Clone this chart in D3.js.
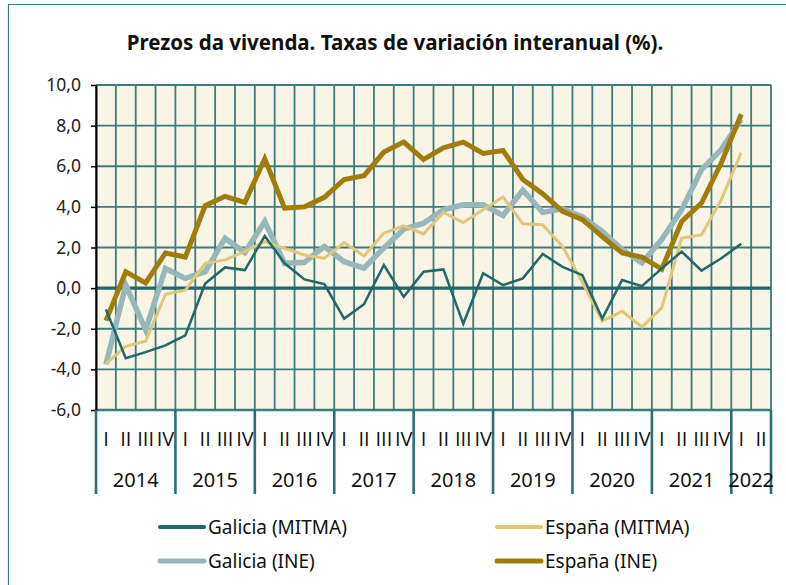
<!DOCTYPE html>
<html>
<head>
<meta charset="utf-8">
<script src="https://cdn.jsdelivr.net/npm/d3@7"></script>
<style>
  html, body { margin: 0; padding: 0; background: #fff; }
  svg { display: block; font-family: "Noto Sans", sans-serif; }
</style>
</head>
<body>
<svg id="chart" width="786" height="585"></svg>
<script>
// years and quarter labels (2022 only has two quarters on the axis)
const years = [2014, 2015, 2016, 2017, 2018, 2019, 2020, 2021, 2022];
const quarterLabels = ['I', 'II', 'III', 'IV'];
const quartersInYear = [4, 4, 4, 4, 4, 4, 4, 4, 2];
const yTicks = [-6, -4, -2, 0, 2, 4, 6, 8, 10];

// series, 2014-I .. 2022-I
const galiciaMitma = [-1.05, -3.45, -3.15, -2.82, -2.33, 0.23, 1.02, 0.89, 2.57, 1.22, 0.43, 0.2,
  -1.5, -0.79, 1.14, -0.43, 0.81, 0.92, -1.75, 0.73, 0.15, 0.48, 1.68, 1.05,
  0.64, -1.5, 0.4, 0.1, 0.97, 1.8, 0.86, 1.47, 2.18];
const espanaMitma = [-3.73, -2.87, -2.61, -0.3, -0.1, 1.22, 1.39, 1.8, 2.29, 1.96, 1.63, 1.47,
  2.24, 1.58, 2.71, 3.07, 2.67, 3.73, 3.23, 3.86, 4.49, 3.17, 3.12, 2.05,
  0.3, -1.62, -1.14, -1.91, -0.96, 2.46, 2.62, 4.36, 6.67];
const galiciaIne = [-3.76, 0.15, -2.05, 0.97, 0.48, 0.81, 2.46, 1.75, 3.28, 1.22, 1.27, 2.05,
  1.3, 0.99, 1.98, 2.9, 3.2, 3.86, 4.1, 4.1, 3.58, 4.82, 3.73, 3.9,
  3.5, 2.79, 1.9, 1.24, 2.4, 3.86, 5.84, 6.83, 8.3];
const espanaIne = [-1.6, 0.8, 0.26, 1.73, 1.53, 4.06, 4.52, 4.22, 6.37, 3.94, 4.0, 4.47,
  5.35, 5.54, 6.7, 7.19, 6.34, 6.91, 7.19, 6.63, 6.78, 5.35, 4.65, 3.78,
  3.37, 2.54, 1.73, 1.53, 0.94, 3.28, 4.19, 6.17, 8.56];

const series = [
  { name: 'Galicia (INE)', values: galiciaIne, color: '#97b7ba', width: 5.5 },
  { name: 'España (INE)', values: espanaIne, color: '#a07d0b', width: 5 },
  { name: 'España (MITMA)', values: espanaMitma, color: '#e0c77a', width: 3 },
  { name: 'Galicia (MITMA)', values: galiciaMitma, color: '#22676a', width: 2.5 }
];
const legendOrder = ['Galicia (MITMA)', 'España (MITMA)', 'Galicia (INE)', 'España (INE)'];

// category list built from years / quarters
const cats = [];
years.forEach((yr, i) => {
  for (let q = 0; q < quartersInYear[i]; q++) cats.push({ key: yr + '-' + q, year: yr, q: quarterLabels[q] });
});

const svg = d3.select('#chart');
const grid = '#3d7b7d';

const x = d3.scaleBand().domain(cats.map(d => d.key)).range([96, 771]).padding(0);
const y = d3.scaleLinear().domain([-6, 10]).range([410, 85]);

// outer frame
svg.append('line').attr('x1', 8.5).attr('x2', 8.5).attr('y1', 4).attr('y2', 585)
  .attr('stroke', grid).attr('stroke-width', 1.2);
svg.append('line').attr('x1', 8).attr('x2', 786).attr('y1', 4.5).attr('y2', 4.5)
  .attr('stroke', grid).attr('stroke-width', 1.2);

// title
svg.append('text')
  .attr('x', 395).attr('y', 50)
  .attr('text-anchor', 'middle')
  .attr('font-size', 20.5).attr('font-weight', 'bold').attr('fill', '#111')
  .text('Prezos da vivenda. Taxas de variación interanual (%).');

// plot background
svg.append('rect')
  .attr('x', x.range()[0]).attr('y', y(10))
  .attr('width', x.range()[1] - x.range()[0]).attr('height', y(-6) - y(10))
  .attr('fill', '#f8f4e6');

// vertical grid at quarter boundaries
const bounds = cats.map(d => x(d.key)).concat([x.range()[1]]);
svg.append('g').selectAll('line').data(bounds).join('line')
  .attr('x1', d => d).attr('x2', d => d)
  .attr('y1', y(10)).attr('y2', y(-6))
  .attr('stroke', grid).attr('stroke-width', 1.8);

// horizontal grid
svg.append('g').selectAll('line').data(yTicks).join('line')
  .attr('x1', x.range()[0]).attr('x2', x.range()[1])
  .attr('y1', d => y(d)).attr('y2', d => y(d))
  .attr('stroke', grid).attr('stroke-width', d => d === -6 ? 2.4 : 1.8);

// zero line
svg.append('line')
  .attr('x1', x.range()[0]).attr('x2', x.range()[1])
  .attr('y1', y(0)).attr('y2', y(0))
  .attr('stroke', '#22676a').attr('stroke-width', 3.4);

// y axis
const yAxis = svg.append('g')
  .attr('transform', 'translate(96,0)')
  .call(d3.axisLeft(y).tickValues(yTicks).tickSize(5).tickSizeOuter(0)
    .tickFormat(d => d.toFixed(1).replace('.', ',')));
yAxis.select('.domain').attr('stroke', '#000').attr('stroke-width', 2);
yAxis.selectAll('.tick line').attr('stroke', '#000').attr('stroke-width', 1.5);
yAxis.selectAll('.tick text').attr('font-size', 17.5).attr('fill', '#222')
  .attr('font-family', '"Noto Sans", sans-serif').attr('x', -15);

// x axis: quarter numerals
const xAxis = svg.append('g')
  .attr('transform', 'translate(0,' + y(-6) + ')')
  .call(d3.axisBottom(x).tickSize(0).tickFormat(k => cats.find(c => c.key === k).q));
xAxis.select('.domain').remove();
xAxis.selectAll('.tick text').attr('font-size', 20).attr('fill', '#111')
  .attr('font-family', '"Open Sans", sans-serif').attr('dy', 0).attr('y', 36);

// year separators and labels
const yearBounds = years.map(yr => x(yr + '-0')).concat([x.range()[1]]);
svg.append('g').selectAll('line').data(yearBounds).join('line')
  .attr('x1', d => d).attr('x2', d => d)
  .attr('y1', y(-6)).attr('y2', 494)
  .attr('stroke', '#2f6f72').attr('stroke-width', 2.6);
svg.append('g').selectAll('text').data(years).join('text')
  .attr('x', (d, i) => (yearBounds[i] + yearBounds[i + 1]) / 2)
  .attr('y', 487)
  .attr('text-anchor', 'middle')
  .attr('font-size', 20).attr('fill', '#111')
  .text(d => d);

// series lines
const line = d3.line()
  .x((d, i) => x(cats[i].key) + x.bandwidth() / 2)
  .y(d => y(d));
svg.append('g').selectAll('path').data(series).join('path')
  .attr('d', d => line(d.values))
  .attr('fill', 'none')
  .attr('stroke', d => d.color)
  .attr('stroke-width', d => d.width)
  .attr('stroke-linejoin', 'miter');

// legend
const legendPos = [[160, 527], [497, 527], [160, 561], [497, 561]];
const lg = svg.append('g').selectAll('g').data(legendOrder).join('g')
  .attr('transform', (d, i) => 'translate(' + legendPos[i][0] + ',' + legendPos[i][1] + ')');
lg.append('line')
  .attr('x1', 0).attr('x2', 44).attr('y1', 0).attr('y2', 0)
  .attr('stroke', d => series.find(s => s.name === d).color)
  .attr('stroke-width', d => series.find(s => s.name === d).width >= 5 ? 5 : 4)
  .attr('stroke-linecap', 'round');
lg.append('text')
  .attr('x', 48).attr('y', 7)
  .attr('font-size', 19).attr('fill', '#111')
  .text(d => d);
</script>
</body>
</html>
